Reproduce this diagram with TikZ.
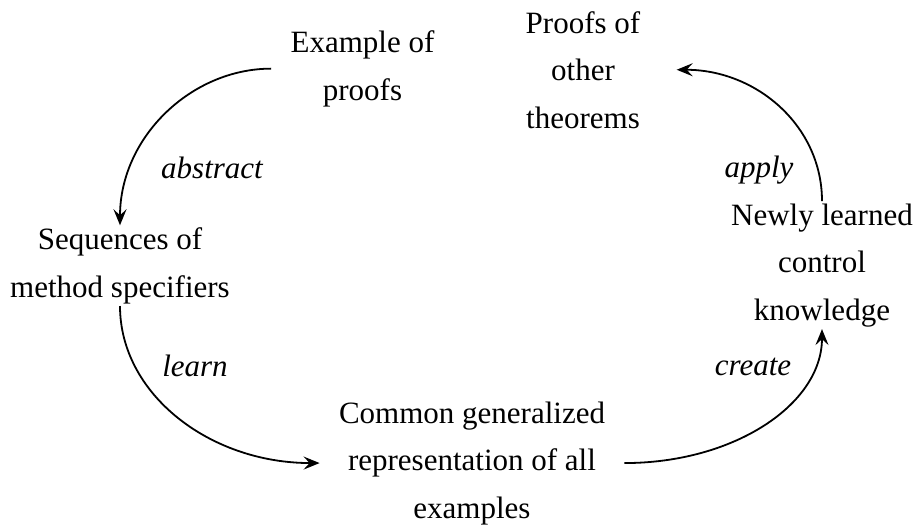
\documentclass[tikz,border=0pt]{standalone}
\usepackage{fontspec}
\setmainfont{Liberation Serif}
\usetikzlibrary{arrows.meta}
\tikzset{
  txt/.style={align=center, inner xsep=9.5pt, inner ysep=1pt, anchor=base,
    font=\fontsize{15.5}{23.75}\selectfont},
  lbl/.style={anchor=base, inner sep=0pt, font=\fontsize{15.5}{23.75}\selectfont\itshape},
  conn/.style={line width=0.9pt, -{Stealth[length=8pt, width=6.5pt, inset=3pt]}}
}
\begin{document}
\begin{tikzpicture}[x=0.5pt, y=-0.5pt]
\useasboundingbox (0,0) rectangle (916,527);
\node[txt] (A) at (362.5,100) {Example of\\proofs};
\node[txt, inner xsep=18pt] (B) at (583,128) {Proofs of\\other\\theorems};
\node[txt] (C) at (120,297) {Sequences of\\method specifiers};
\node[txt] (D) at (822,320) {Newly learned\\control\\knowledge};
\node[txt] (E) at (472,518) {Common generalized\\representation of all\\examples};
\node[lbl] (la) at (212,178) {abstract};
\node[lbl] (lp) at (759,177) {apply};
\node[lbl] (ll) at (195,376) {learn};
\node[lbl] (lc) at (753,375) {create};
\draw[conn] (A.west) .. controls +(-80,0) and +(0,-88) .. (C.north);
\draw[conn] (C.south) .. controls +(0,88) and +(-110,0) .. (E.west);
\draw[conn] (E.east) .. controls +(110,0) and +(0,75) .. (D.south);
\draw[conn] (D.north) .. controls +(0,-75) and +(80,0) .. (B.east);
\end{tikzpicture}
\end{document}
